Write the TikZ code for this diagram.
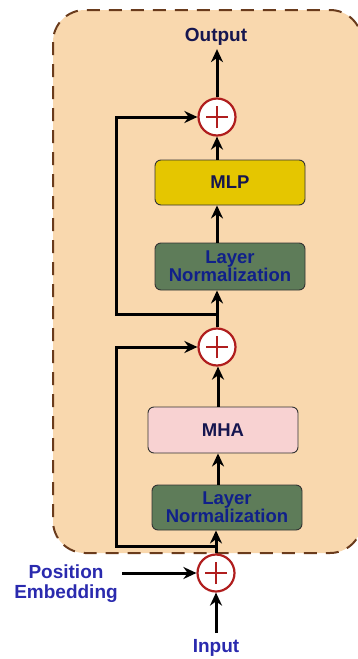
\documentclass[tikz,border=0pt]{standalone}
\usepackage{fontspec}
\setmainfont{Liberation Sans}
\usetikzlibrary{arrows.meta,positioning}
\definecolor{peach}{HTML}{F9D8AE}
\definecolor{framebrown}{HTML}{6A3B1C}
\definecolor{mlpgold}{HTML}{E5C600}
\definecolor{lngreen}{HTML}{5E7C59}
\definecolor{mhapink}{HTML}{F8D2D2}
\definecolor{navy}{HTML}{16164F}
\definecolor{lnblue}{HTML}{10208A}
\definecolor{txtblue}{HTML}{2A2AAE}
\definecolor{plusred}{HTML}{B01E1E}
\tikzset{
  blockbox/.style={draw=black!80, line width=0.9pt, rounded corners=6pt, minimum width=150pt, align=center, font=\fontsize{18.5}{20}\selectfont\bfseries},
  addnode/.style={circle, draw=plusred, line width=2.2pt, fill=white, minimum size=37pt, inner sep=0pt},
  flow/.style={line width=3pt, -{Stealth[length=13pt,width=12pt]}},
  skip/.style={line width=3pt, -{Stealth[length=13pt,width=12pt]}},
  lbl/.style={font=\fontsize{19}{21}\selectfont\bfseries, align=center}
}
\newcommand{\plusmark}[1]{%
  \draw[plusred, line width=2.2pt] ([xshift=-11pt]#1.center) -- ([xshift=11pt]#1.center);
  \draw[plusred, line width=2.2pt] ([yshift=-11pt]#1.center) -- ([yshift=11pt]#1.center);}
\begin{document}
\begin{tikzpicture}[x=1pt,y=-1pt]
\useasboundingbox (0,0) rectangle (358,659);
% outer frame
\draw[fill=peach, draw=framebrown, line width=2pt, dash pattern=on 13pt off 9pt, rounded corners=32pt] (53,10) rectangle (362,553);
% nodes
\node[lbl, text=navy] (out) at (216,37) {Output};
\node[addnode] (pA) at (217,117) {};
\node[blockbox, fill=mlpgold, text=navy, minimum height=45pt] (mlp) at (230,182.5) {MLP};
\node[blockbox, fill=lngreen, text=lnblue, minimum height=47pt, inner sep=1pt] (ln1) at (230,266.5) {Layer\\[-2pt]Normalization};
\node[addnode] (pB) at (217,347) {};
\node[blockbox, fill=mhapink, text=navy, minimum height=46pt] (mha) at (223,430) {MHA};
\node[blockbox, fill=lngreen, text=lnblue, minimum height=45pt, inner sep=1pt] (ln2) at (227,507.5) {Layer\\[-2pt]Normalization};
\node[addnode] (pC) at (216,573) {};
\node[lbl, text=txtblue] (pos) at (66,584) {Position\\[-1pt]Embedding};
\node[lbl, text=txtblue] (inp) at (216,648) {Input};
\coordinate (posend) at (122,573);
\coordinate (inpend) at (216,633);
\coordinate (brA) at (216,314);
\coordinate (brB) at (216,546);
\coordinate (skA) at (116,314);
\coordinate (skB) at (116,546);
\plusmark{pA}
\plusmark{pB}
\plusmark{pC}
% main flow
\draw[flow] (inpend) -- (pC.south);
\draw[flow] (posend) -- (pC.west);
\draw[flow] (pC.north) -- (pC.north |- ln2.south);
\draw[flow] (ln2.north -| 218,0) -- (mha.south -| 218,0);
\draw[flow] (mha.north -| 218,0) -- (pB.south -| 218,0);
\draw[flow] (pB.north) -- (pB.north |- ln1.south);
\draw[flow] (ln1.north -| 217,0) -- (mlp.south -| 217,0);
\draw[flow] (mlp.north -| 217,0) -- (pA.south);
\draw[flow] (pA.north) -- (out.south -| pA.north);
% skip connections
\draw[skip] (brB) -- (skB) -- (skB |- pB.west) -- (pB.west);
\draw[skip] (brA) -- (skA) -- (skA |- pA.west) -- (pA.west);
\end{tikzpicture}
\end{document}
